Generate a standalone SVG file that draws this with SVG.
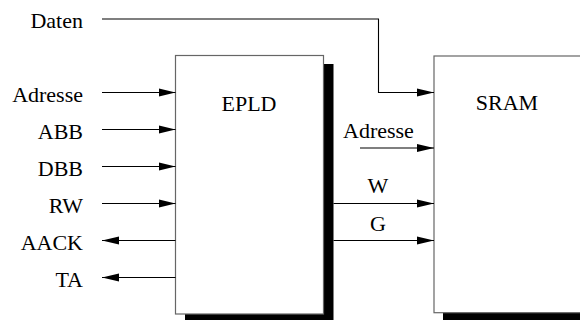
<svg xmlns="http://www.w3.org/2000/svg" width="580" height="320" viewBox="0 0 580 320">
<style>
text{font-family:"Liberation Serif","Times New Roman",serif;font-size:22px;fill:#000}
.l{text-anchor:end}
.m{text-anchor:middle}
.box{fill:#fff;stroke:#666;stroke-width:1.2}
.sh{fill:#000}
.c{fill:none;stroke:#000;stroke-width:1.1}
</style>
<defs>
<marker id="ah" markerUnits="userSpaceOnUse" markerWidth="18" markerHeight="10" refX="17" refY="4.5" orient="auto">
<path d="M0,0.5 L17,4.5 L0,8.5 Z" fill="#000"/>
</marker>
</defs>
<g id="epld">
<rect class="sh" x="185" y="64" width="148.5" height="260"/>
<rect class="box" x="175.5" y="55.5" width="148" height="258.5"/>
<text class="m" x="249" y="111">EPLD</text>
</g>
<g id="sram">
<rect class="sh" x="443" y="65" width="150" height="258"/>
<rect class="box" x="434" y="56" width="160" height="256.7"/>
<text class="m" x="507" y="110">SRAM</text>
</g>
<g id="labels">
<text class="l" x="83" y="28">Daten</text>
<text class="l" x="83" y="102">Adresse</text>
<text class="l" x="83" y="139">ABB</text>
<text class="l" x="83" y="176">DBB</text>
<text class="l" x="83" y="212.5">RW</text>
<text class="l" x="83" y="250">AACK</text>
<text class="l" x="83" y="287">TA</text>
<text x="343" y="138">Adresse</text>
<text class="m" x="378" y="193">W</text>
<text class="m" x="378" y="231">G</text>
</g>
<g id="connectors">
<path class="c" d="M102,19 H378.5 V92.5 H434" marker-end="url(#ah)"/>
<path class="c" d="M102,92.5 H175.5" marker-end="url(#ah)"/>
<path class="c" d="M102,129.5 H175.5" marker-end="url(#ah)"/>
<path class="c" d="M102,166.5 H175.5" marker-end="url(#ah)"/>
<path class="c" d="M102,203.5 H175.5" marker-end="url(#ah)"/>
<path class="c" d="M175.5,240.5 H102" marker-end="url(#ah)"/>
<path class="c" d="M175.5,277.5 H102" marker-end="url(#ah)"/>
<path class="c" d="M360,148 H434" marker-end="url(#ah)"/>
<path class="c" d="M333.5,203.5 H434" marker-end="url(#ah)"/>
<path class="c" d="M333.5,240.5 H434" marker-end="url(#ah)"/>
</g>
</svg>
